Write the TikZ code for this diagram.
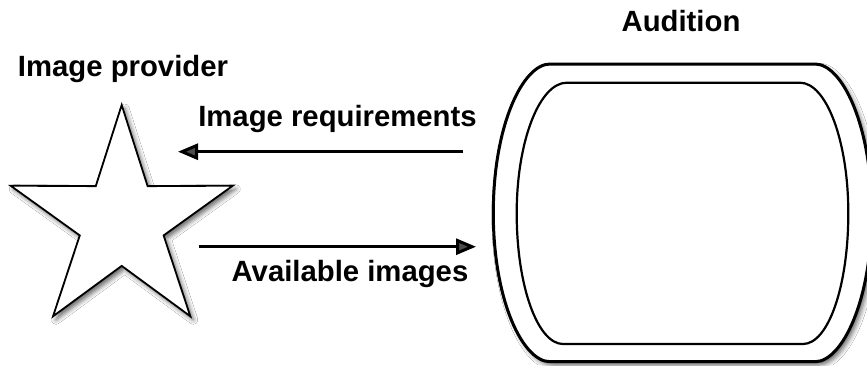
\documentclass[tikz,border=0pt]{standalone}
\usepackage{fontspec}
\setmainfont{Liberation Sans}
\usetikzlibrary{arrows.meta,shapes.geometric,shadows.blur}

\tikzset{
  label text/.style={font=\fontsize{29.3}{34}\selectfont\bfseries, anchor=base, inner sep=0pt},
  soft shadow/.style={blur shadow={shadow xshift=3pt, shadow yshift=-3.5pt,
      shadow blur radius=4.5pt, shadow opacity=60}},
  flow/.style={line width=3pt, -{Triangle[length=20pt,width=16pt]}},
  staroutline/.style={star, star points=5, star point ratio=2.65,
      minimum size=233.6pt, inner sep=0pt, draw, line width=1.8pt,
      fill=white, soft shadow},
}

\begin{document}
\begin{tikzpicture}[x=1pt,y=-1pt]
  \useasboundingbox (0,0) rectangle (867,365);
  \fill[white] (0,0) rectangle (867,365);

  % image provider star
  \node[staroutline] (provider) at (121.7,221.8) {};

  % audition display: outer and inner bulged frames
  \path[fill=white, soft shadow] (550,64) -- (815,64)
      .. controls (842,64) and (871.7,125) .. (871.7,213)
      .. controls (871.7,301) and (842,361.7) .. (815,361.7)
      -- (550,361.7)
      .. controls (523,361.7) and (493.3,301) .. (493.3,213)
      .. controls (493.3,125) and (523,64) .. (550,64) -- cycle;
  \draw[line width=3pt] (550,64) coordinate (outerNW) -- (815,64)
      .. controls (842,64) and (871.7,125) .. (871.7,213)
      .. controls (871.7,301) and (842,361.7) .. (815,361.7)
      -- (550,361.7)
      .. controls (523,361.7) and (493.3,301) .. (493.3,213)
      .. controls (493.3,125) and (523,64) .. (550,64) -- cycle;
  \draw[line width=2.2pt] (566.7,82.7) coordinate (innerNW) -- (800,82.7)
      .. controls (826,82.7) and (848.3,140) .. (848.3,213.3)
      .. controls (848.3,287) and (828,344) .. (803,344)
      -- (563,344)
      .. controls (538,344) and (516.7,287) .. (516.7,213.3)
      .. controls (516.7,140) and (540,82.7) .. (566.7,82.7) -- cycle;

  % labels
  \node[label text] (audition) at (681,31.5) {Audition};
  \node[label text] (providerlabel) at (123,76) {Image provider};
  \node[label text] (reqlabel) at (337.5,126) {Image requirements};
  \node[label text] (availlabel) at (350,281) {Available images};

  % message flows
  \coordinate (reqstart) at (463.3,151.7);
  \coordinate (reqend) at (178,151.7);
  \coordinate (availstart) at (199.3,246.7);
  \coordinate (availend) at (476,246.7);
  \draw[flow] (reqstart) -- (reqend);
  \draw[flow] (availstart) -- (availend);
\end{tikzpicture}
\end{document}
